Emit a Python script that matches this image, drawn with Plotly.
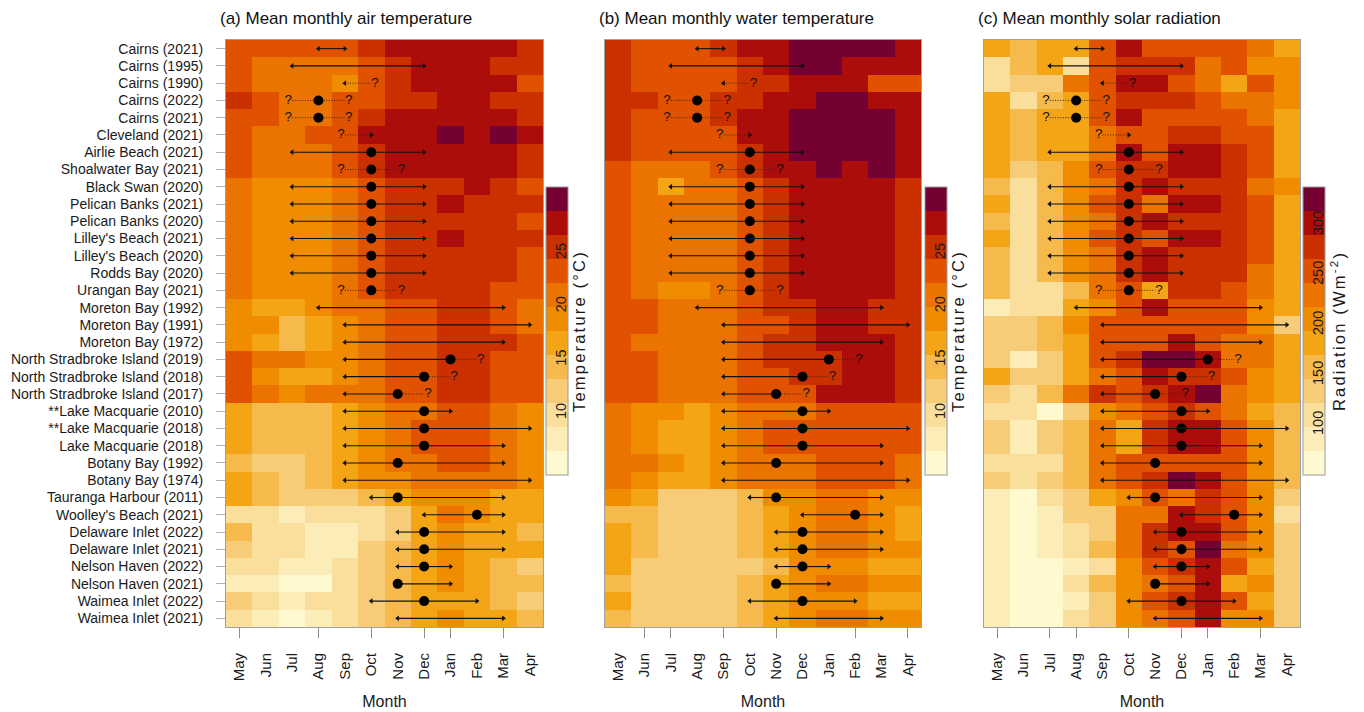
import plotly.graph_objects as go

months = ["May", "Jun", "Jul", "Aug", "Sep", "Oct", "Nov", "Dec", "Jan", "Feb", "Mar", "Apr"]
sites = ["Cairns (2021)", "Cairns (1995)", "Cairns (1990)", "Cairns (2022)", "Cairns (2021)",
         "Cleveland (2021)", "Airlie Beach (2021)", "Shoalwater Bay (2021)", "Black Swan (2020)",
         "Pelican Banks (2021)", "Pelican Banks (2020)", "Lilley's Beach (2021)", "Lilley's Beach (2020)",
         "Rodds Bay (2020)", "Urangan Bay (2021)", "Moreton Bay (1992)", "Moreton Bay (1991)",
         "Moreton Bay (1972)", "North Stradbroke Island (2019)", "North Stradbroke Island (2018)",
         "North Stradbroke Island (2017)", "**Lake Macquarie (2010)", "**Lake Macquarie (2018)",
         "Lake Macquarie (2018)", "Botany Bay (1992)", "Botany Bay (1974)", "Tauranga Harbour (2011)",
         "Woolley's Beach (2021)", "Delaware Inlet (2022)", "Delaware Inlet (2021)",
         "Nelson Haven (2022)", "Nelson Haven (2021)", "Waimea Inlet (2022)", "Waimea Inlet (2021)"]

season_start = ["Aug", "Jul", "Sep", "Jul", "Jul", "Sep", "Jul", "Sep", "Jul", "Jul", "Jul", "Jul",
                "Jul", "Jul", "Sep", "Aug", "Sep", "Sep", "Sep", "Sep", "Sep", "Sep", "Sep", "Sep",
                "Sep", "Sep", "Oct", "Dec", "Nov", "Nov", "Nov", "Nov", "Oct", "Nov"]
season_peak = [None, None, None, "Aug", "Aug", None, "Oct", "Oct", "Oct", "Oct", "Oct", "Oct",
               "Oct", "Oct", "Oct", None, None, None, "Jan", "Dec", "Nov", "Dec", "Dec", "Dec",
               "Nov", None, "Nov", "Feb", "Dec", "Dec", "Dec", "Nov", "Dec", None]
season_end = ["Sep", "Dec", "Oct", "Sep", "Sep", "Oct", "Dec", "Nov", "Dec", "Dec", "Dec", "Dec",
              "Dec", "Dec", "Nov", "Mar", "Apr", "Mar", "Feb", "Jan", "Dec", "Jan", "Apr", "Mar",
              "Mar", "Apr", "Mar", "Mar", "Mar", "Mar", "Jan", "Jan", "Feb", "Mar"]
start_uncertain = [0, 0, 0, 1, 1, 1, 0, 1, 0, 0, 0, 0, 0, 0, 1, 0, 0, 0, 0, 0, 0, 0, 0, 0,
                   0, 0, 0, 0, 0, 0, 0, 0, 0, 0]
end_uncertain = [0, 0, 1, 1, 1, 0, 0, 1, 0, 0, 0, 0, 0, 0, 1, 0, 0, 0, 1, 1, 1, 0, 0, 0,
                 0, 0, 0, 0, 0, 0, 0, 0, 0, 0]

air_temp = [
    [23, 23, 23, 23, 23, 25.5, 27.5, 27.5, 27.5, 27.5, 27.5, 25.5],
    [23, 21, 21, 21, 21, 23, 25.5, 27.5, 27.5, 27.5, 25.5, 25.5],
    [23, 21, 21, 21, 18.5, 23, 25.5, 27.5, 27.5, 27.5, 27.5, 23],
    [25.5, 23, 21, 21, 23, 23, 25.5, 25.5, 27.5, 27.5, 25.5, 25.5],
    [23, 23, 21, 21, 23, 25.5, 27.5, 27.5, 27.5, 27.5, 27.5, 25.5],
    [23, 21, 21, 23, 23, 27.5, 27.5, 27.5, 30, 27.5, 30, 27.5],
    [23, 21, 21, 21, 23, 25.5, 27.5, 27.5, 27.5, 27.5, 27.5, 25.5],
    [23, 21, 21, 21, 23, 25.5, 27.5, 27.5, 27.5, 27.5, 27.5, 25.5],
    [21, 18.5, 18.5, 18.5, 21, 23, 25.5, 25.5, 25.5, 27.5, 25.5, 23],
    [21, 18.5, 18.5, 18.5, 21, 23, 25.5, 25.5, 27.5, 25.5, 25.5, 25.5],
    [21, 18.5, 18.5, 18.5, 21, 23, 25.5, 25.5, 25.5, 25.5, 25.5, 23],
    [21, 18.5, 18.5, 18.5, 21, 23, 25.5, 25.5, 27.5, 25.5, 25.5, 25.5],
    [21, 18.5, 18.5, 18.5, 21, 23, 25.5, 25.5, 25.5, 25.5, 25.5, 23],
    [21, 18.5, 18.5, 18.5, 21, 23, 25.5, 25.5, 25.5, 25.5, 25.5, 23],
    [21, 18.5, 18.5, 18.5, 21, 23, 25.5, 25.5, 25.5, 25.5, 23, 23],
    [18.5, 16.5, 16.5, 18.5, 21, 21, 23, 23, 25.5, 25.5, 23, 21],
    [18.5, 18.5, 14, 16.5, 18.5, 21, 23, 23, 25.5, 25.5, 23, 21],
    [18.5, 16.5, 14, 16.5, 18.5, 21, 23, 23, 25.5, 25.5, 25.5, 23],
    [23, 21, 21, 18.5, 18.5, 21, 23, 23, 25.5, 25.5, 23, 23],
    [23, 18.5, 16.5, 16.5, 18.5, 21, 23, 23, 25.5, 25.5, 23, 23],
    [23, 21, 18.5, 21, 21, 21, 23, 23, 25.5, 25.5, 23, 23],
    [16.5, 14, 14, 14, 16.5, 18.5, 21, 21, 23, 23, 21, 18.5],
    [16.5, 14, 14, 14, 16.5, 18.5, 21, 23, 23, 23, 21, 18.5],
    [16.5, 14, 14, 14, 16.5, 18.5, 21, 23, 23, 23, 21, 18.5],
    [14, 12, 12, 14, 16.5, 18.5, 21, 21, 23, 23, 21, 18.5],
    [16.5, 14, 12, 14, 16.5, 18.5, 18.5, 21, 21, 21, 21, 18.5],
    [16.5, 14, 12, 12, 12, 14, 16.5, 18.5, 18.5, 18.5, 16.5, 16.5],
    [9.5, 9.5, 7.5, 9.5, 9.5, 9.5, 12, 16.5, 21, 18.5, 16.5, 16.5],
    [14, 9.5, 9.5, 7.5, 7.5, 9.5, 12, 16.5, 18.5, 16.5, 16.5, 14],
    [12, 9.5, 9.5, 7.5, 7.5, 12, 14, 16.5, 18.5, 16.5, 16.5, 16.5],
    [9.5, 9.5, 7.5, 7.5, 9.5, 12, 14, 16.5, 18.5, 16.5, 14, 12],
    [7.5, 7.5, 5, 5, 9.5, 12, 14, 16.5, 18.5, 16.5, 14, 14],
    [12, 9.5, 7.5, 9.5, 9.5, 12, 14, 16.5, 16.5, 16.5, 14, 12],
    [9.5, 7.5, 5, 7.5, 9.5, 12, 14, 16.5, 18.5, 16.5, 16.5, 14],
]

water_temp = [
    [25.5, 23, 23, 23, 25.5, 27.5, 27.5, 30, 30, 30, 30, 27.5],
    [25.5, 23, 23, 23, 23, 25.5, 27.5, 30, 30, 27.5, 27.5, 27.5],
    [25.5, 23, 23, 23, 23, 25.5, 25.5, 27.5, 27.5, 27.5, 23, 23],
    [25.5, 25.5, 23, 23, 25.5, 25.5, 27.5, 27.5, 30, 30, 27.5, 27.5],
    [25.5, 23, 23, 23, 25.5, 27.5, 27.5, 30, 30, 30, 30, 27.5],
    [25.5, 23, 23, 23, 23, 27.5, 27.5, 30, 30, 30, 30, 27.5],
    [25.5, 23, 23, 23, 23, 25.5, 27.5, 30, 30, 30, 30, 27.5],
    [23, 21, 21, 21, 23, 25.5, 27.5, 27.5, 30, 27.5, 30, 27.5],
    [23, 21, 16.5, 21, 21, 23, 25.5, 27.5, 27.5, 27.5, 27.5, 25.5],
    [23, 21, 21, 21, 21, 23, 25.5, 27.5, 27.5, 27.5, 27.5, 25.5],
    [23, 21, 21, 21, 21, 23, 25.5, 27.5, 27.5, 27.5, 27.5, 25.5],
    [23, 21, 21, 21, 21, 23, 25.5, 27.5, 27.5, 27.5, 27.5, 25.5],
    [23, 21, 21, 21, 21, 23, 25.5, 27.5, 27.5, 27.5, 27.5, 25.5],
    [23, 21, 21, 21, 21, 23, 25.5, 27.5, 27.5, 27.5, 27.5, 25.5],
    [23, 21, 18.5, 18.5, 21, 23, 25.5, 27.5, 27.5, 27.5, 27.5, 25.5],
    [23, 23, 21, 21, 21, 23, 25.5, 25.5, 27.5, 27.5, 25.5, 25.5],
    [23, 23, 21, 21, 21, 23, 23, 25.5, 27.5, 27.5, 25.5, 25.5],
    [23, 21, 21, 21, 21, 23, 25.5, 25.5, 27.5, 27.5, 27.5, 25.5],
    [23, 23, 21, 21, 21, 23, 25.5, 25.5, 25.5, 27.5, 27.5, 25.5],
    [23, 23, 21, 21, 21, 23, 23, 25.5, 25.5, 27.5, 27.5, 25.5],
    [23, 23, 21, 21, 21, 23, 23, 23, 27.5, 27.5, 27.5, 25.5],
    [21, 18.5, 18.5, 16.5, 18.5, 21, 21, 21, 23, 23, 23, 23],
    [21, 18.5, 16.5, 16.5, 18.5, 21, 23, 23, 23, 23, 23, 23],
    [21, 18.5, 16.5, 16.5, 18.5, 21, 23, 23, 23, 23, 23, 23],
    [21, 21, 18.5, 16.5, 18.5, 21, 21, 21, 23, 23, 23, 21],
    [21, 18.5, 16.5, 16.5, 18.5, 21, 21, 21, 23, 23, 23, 21],
    [18.5, 16.5, 12, 12, 12, 14, 18.5, 18.5, 21, 21, 18.5, 18.5],
    [14, 14, 12, 12, 12, 14, 16.5, 18.5, 21, 21, 18.5, 16.5],
    [16.5, 14, 12, 12, 12, 14, 16.5, 18.5, 21, 21, 18.5, 16.5],
    [16.5, 14, 12, 12, 12, 14, 16.5, 18.5, 21, 21, 18.5, 18.5],
    [16.5, 12, 12, 12, 12, 12, 14, 18.5, 18.5, 18.5, 16.5, 16.5],
    [14, 12, 12, 12, 12, 14, 16.5, 18.5, 21, 21, 18.5, 18.5],
    [16.5, 12, 12, 12, 12, 14, 16.5, 18.5, 18.5, 18.5, 16.5, 16.5],
    [14, 12, 12, 12, 12, 14, 16.5, 18.5, 21, 21, 18.5, 18.5],
]

radiation = [
    [180, 155, 180, 180, 250, 300, 250, 250, 250, 250, 230, 180],
    [110, 155, 180, 110, 250, 275, 275, 275, 230, 250, 205, 205],
    [110, 130, 130, 230, 250, 300, 300, 250, 230, 180, 250, 205],
    [180, 110, 155, 180, 250, 275, 275, 275, 250, 230, 230, 205],
    [180, 155, 180, 180, 250, 300, 250, 250, 250, 250, 230, 180],
    [180, 155, 180, 180, 230, 250, 250, 275, 275, 250, 250, 180],
    [180, 155, 180, 180, 230, 300, 250, 300, 300, 275, 250, 180],
    [180, 130, 155, 205, 250, 275, 275, 300, 300, 275, 250, 180],
    [155, 110, 155, 205, 230, 275, 300, 275, 275, 275, 230, 205],
    [180, 110, 155, 205, 250, 275, 230, 300, 300, 275, 250, 180],
    [155, 110, 155, 205, 230, 275, 300, 275, 275, 275, 250, 180],
    [180, 110, 155, 205, 250, 275, 250, 300, 300, 275, 250, 180],
    [155, 110, 155, 205, 230, 275, 300, 275, 275, 275, 250, 180],
    [155, 110, 155, 205, 230, 275, 300, 275, 275, 275, 230, 180],
    [155, 110, 110, 155, 230, 250, 180, 275, 275, 250, 230, 180],
    [85, 110, 110, 180, 205, 250, 300, 250, 250, 250, 205, 180],
    [130, 130, 155, 205, 250, 250, 250, 250, 250, 250, 205, 130],
    [130, 130, 155, 180, 250, 250, 250, 300, 250, 230, 230, 180],
    [130, 85, 130, 180, 250, 275, 325, 325, 300, 230, 230, 180],
    [180, 130, 130, 180, 230, 250, 300, 275, 275, 250, 205, 180],
    [130, 110, 155, 230, 275, 250, 275, 300, 325, 230, 205, 180],
    [110, 110, 60, 130, 205, 230, 250, 275, 250, 230, 180, 155],
    [130, 85, 130, 155, 230, 180, 275, 300, 300, 250, 205, 155],
    [130, 85, 130, 155, 230, 180, 275, 300, 300, 250, 205, 155],
    [110, 110, 110, 155, 230, 250, 250, 250, 250, 250, 205, 155],
    [130, 110, 130, 155, 230, 250, 275, 325, 300, 250, 205, 155],
    [85, 60, 110, 130, 180, 205, 250, 230, 275, 250, 205, 130],
    [85, 60, 85, 130, 130, 230, 230, 300, 275, 250, 205, 110],
    [85, 60, 85, 110, 130, 230, 275, 300, 300, 250, 205, 130],
    [85, 60, 85, 110, 155, 230, 275, 250, 325, 230, 205, 130],
    [85, 60, 60, 85, 110, 205, 250, 275, 300, 250, 180, 130],
    [85, 60, 60, 110, 155, 205, 230, 250, 300, 180, 205, 130],
    [85, 60, 60, 85, 130, 205, 250, 275, 300, 250, 180, 130],
    [85, 60, 60, 110, 130, 205, 230, 250, 300, 205, 205, 130],
]

temp_ticks = [10, 15, 20, 25]
rad_ticks = [100, 150, 200, 250, 300]
panel_titles = ["(a) Mean monthly air temperature", "(b) Mean monthly water temperature",
                "(c) Mean monthly solar radiation"]
minor_tick_months = [["May", "Aug", "Oct", "Dec", "Jan", "Mar"],
                     ["Jun", "Jul", "Sep", "Nov", "Feb", "Apr"],
                     ["May", "Jul", "Aug", "Oct", "Dec", "Jan", "Mar"]]

palette = ["#FFF9CF", "#FCEDB8", "#F9DE9C", "#F6CC78", "#F5B94C", "#F4A516",
           "#F08C00", "#EB7300", "#E05200", "#CB3100", "#AB0D0A", "#750032"]


def stepped(colors):
    n = len(colors)
    cs = []
    for i, c in enumerate(colors):
        cs.append([i / n, c])
        cs.append([(i + 1) / n, c])
    return cs


CS = stepped(palette)
W, H = 1364, 712
FONT = "Liberation Sans, Arial, sans-serif"

panels = [
    dict(z=air_temp, zmin=4, zmax=31, ticks=temp_ticks,
         cbtitle="Temperature (°C)", x0=226, x1=543, cbx=546, title_dx=33),
    dict(z=water_temp, zmin=4, zmax=31, ticks=temp_ticks,
         cbtitle="Temperature (°C)", x0=605, x1=921, cbx=925, title_dx=33),
    dict(z=radiation, zmin=48, zmax=336, ticks=rad_ticks,
         cbtitle="Radiation (Wm<sup>-2</sup>)", x0=984, x1=1300, cbx=1303, title_dx=35),
]
y_top, y_bot = 40, 627
cb_top, cb_bot = 187, 475
CB_W = 22

fig = go.Figure()
layout = dict(width=W, height=H, margin=dict(l=0, r=0, t=0, b=0), template="none",
              paper_bgcolor="white", plot_bgcolor="white", showlegend=False,
              font=dict(family=FONT, color="#1a1a1a"))
annotations = []

mi = {m: i for i, m in enumerate(months)}
rows = list(range(len(sites)))

for k, p in enumerate(panels):
    sfx = "" if k == 0 else str(k + 1)
    xa, ya = "x" + sfx, "y" + sfx
    fig.add_trace(go.Heatmap(
        z=p["z"], x=list(range(12)), y=rows, xaxis=xa, yaxis=ya,
        colorscale=CS, zmin=p["zmin"], zmax=p["zmax"],
        colorbar=dict(x=p["cbx"] / W, xanchor="left", xpad=0, ypad=0,
                      y=1 - (cb_top + cb_bot) / 2 / H, yanchor="middle",
                      len=(cb_bot - cb_top) / H, lenmode="fraction",
                      thickness=CB_W, outlinecolor="#9a9a9a", outlinewidth=1,
                      tickvals=p["ticks"], ticks="", showticklabels=False),
        hoverinfo="skip"))

    # colourbar tick labels (rotated, drawn over the bar as in the original)
    for v in p["ticks"]:
        frac = (v - p["zmin"]) / (p["zmax"] - p["zmin"])
        ypx = cb_bot - frac * (cb_bot - cb_top)
        annotations.append(dict(text=str(v), xref="paper", yref="paper",
                                x=(p["cbx"] + 15) / W, y=1 - ypx / H, textangle=-90,
                                xanchor="center", yanchor="middle", showarrow=False,
                                font=dict(size=14.5, color="#1a1a1a", family=FONT)))
    annotations.append(dict(text='<span style="letter-spacing:2.2px">' + p["cbtitle"] + "</span>",
                            xref="paper", yref="paper",
                            x=(p["cbx"] + p["title_dx"]) / W, y=1 - (cb_top + cb_bot) / 2 / H,
                            textangle=-90, xanchor="center", yanchor="middle", showarrow=False,
                            font=dict(size=16.5, color="#1a1a1a", family=FONT)))

    # season overlays
    solid_x, solid_y, dot_x, dot_y = [], [], [], []
    la_x, la_y, ra_x, ra_y = [], [], [], []
    pk_x, pk_y = [], []
    ql_x, ql_y, qr_x, qr_y = [], [], [], []
    for r in rows:
        s = mi[season_start[r]]
        e = mi[season_end[r]]
        pk = season_peak[r]
        su, eu = start_uncertain[r], end_uncertain[r]
        if pk is None:
            if su or eu:
                dot_x += [s, e, None]; dot_y += [r, r, None]
            else:
                solid_x += [s, e, None]; solid_y += [r, r, None]
        else:
            pm = mi[pk]
            pk_x.append(pm); pk_y.append(r)
            if s != pm:
                if su:
                    dot_x += [s, pm, None]; dot_y += [r, r, None]
                else:
                    solid_x += [s, pm, None]; solid_y += [r, r, None]
            if e != pm:
                if eu:
                    dot_x += [pm, e, None]; dot_y += [r, r, None]
                else:
                    solid_x += [pm, e, None]; solid_y += [r, r, None]
        if su:
            ql_x.append(s); ql_y.append(r)
        elif pk is None or s != mi[pk]:
            la_x.append(s); la_y.append(r)
        if eu:
            qr_x.append(e); qr_y.append(r)
        else:
            ra_x.append(e); ra_y.append(r)

    fig.add_trace(go.Scatter(x=dot_x, y=dot_y, mode="lines", xaxis=xa, yaxis=ya,
                             line=dict(color="#3b2418", width=1, dash="1px,1.6px"),
                             hoverinfo="skip"))
    fig.add_trace(go.Scatter(x=solid_x, y=solid_y, mode="lines", xaxis=xa, yaxis=ya,
                             line=dict(color="#111111", width=1.1), hoverinfo="skip"))
    fig.add_trace(go.Scatter(x=la_x, y=la_y, mode="markers", xaxis=xa, yaxis=ya,
                             marker=dict(symbol="triangle-left", size=5, color="#111111"),
                             hoverinfo="skip"))
    fig.add_trace(go.Scatter(x=ra_x, y=ra_y, mode="markers", xaxis=xa, yaxis=ya,
                             marker=dict(symbol="triangle-right", size=5, color="#111111"),
                             hoverinfo="skip"))
    fig.add_trace(go.Scatter(x=pk_x, y=pk_y, mode="markers", xaxis=xa, yaxis=ya,
                             marker=dict(symbol="circle", size=10, color="#000000"),
                             hoverinfo="skip"))
    fig.add_trace(go.Scatter(x=ql_x, y=ql_y, mode="text", text=["?"] * len(ql_x),
                             textposition="middle left", xaxis=xa, yaxis=ya,
                             textfont=dict(size=13.5, color="#111111", family=FONT),
                             hoverinfo="skip"))
    fig.add_trace(go.Scatter(x=qr_x, y=qr_y, mode="text", text=["?"] * len(qr_x),
                             textposition="middle right", xaxis=xa, yaxis=ya,
                             textfont=dict(size=13.5, color="#111111", family=FONT),
                             hoverinfo="skip"))

    layout["xaxis" + sfx] = dict(
        domain=[p["x0"] / W, p["x1"] / W], anchor=ya, range=[-0.5, 11.5],
        tickmode="array", tickvals=list(range(12)), ticktext=months, ticks="",
        tickangle=-90, ticklabelstandoff=19, tickfont=dict(size=15, color="#1a1a1a"),
        minor=dict(tickmode="array", tickvals=[mi[m] for m in minor_tick_months[k]],
                   ticks="outside", ticklen=10, tickcolor="#8a8a8a", tickwidth=1.3),
        showgrid=False, zeroline=False, showline=True, mirror=True, linecolor="#a0a0a0",
        linewidth=1, automargin=False,
        title=dict(text="Month", font=dict(size=16, color="#1a1a1a"), standoff=15))
    yax = dict(domain=[1 - y_bot / H, 1 - y_top / H], anchor=xa, range=[33.5, -0.5],
               showgrid=False, zeroline=False, showline=True, mirror=True,
               linecolor="#a0a0a0", linewidth=1, automargin=False)
    if k == 0:
        yax.update(tickmode="array", tickvals=rows, ticktext=sites, ticks="outside",
                   ticklen=9, tickcolor="#b0b0b0", ticklabelstandoff=10,
                   tickfont=dict(size=14, color="#1a1a1a"))
    else:
        yax.update(showticklabels=False, ticks="")
    layout["yaxis" + sfx] = yax

    annotations.append(dict(text=panel_titles[k], xref="paper", yref="paper",
                            x=(p["x0"] - 8) / W, y=1 - 18 / H, xanchor="left", yanchor="middle",
                            showarrow=False, font=dict(size=17, color="#111111", family=FONT)))

layout["annotations"] = annotations
fig.update_layout(**layout)
# remove the browser's default 8px page margin so the 1364x712 figure fills the window exactly
fig.write_html("out.html", config={"displayModeBar": False},
               post_script="document.body.style.margin='0px';")
